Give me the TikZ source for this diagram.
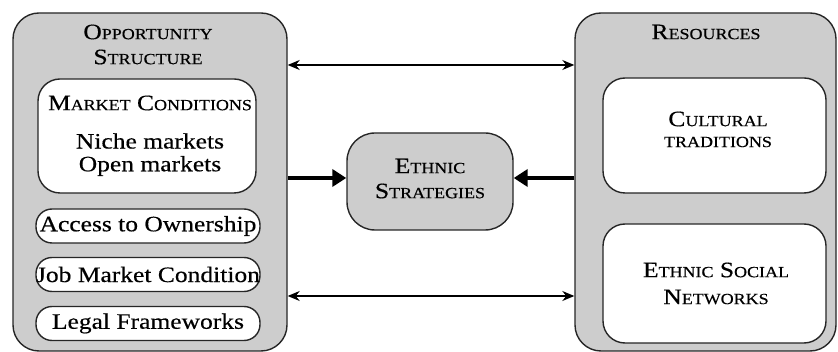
\documentclass[tikz,border=0pt]{standalone}
\usepackage{fontspec}
\setmainfont{Liberation Serif}[FakeStretch=1.16,FakeBold=0.4]
\usetikzlibrary{arrows.meta}
\definecolor{boxgray}{RGB}{205,205,205}
\newcommand\bigF{\fontsize{22}{26}\selectfont}
\newcommand\smc[1]{{\fontsize{15.5}{18}\selectfont #1}}
\begin{document}
\begin{tikzpicture}[x=1pt,y=-1pt,
  outer/.style={draw=black!85,line width=1.4pt,fill=boxgray,rounded corners=26pt,inner sep=0pt},
  inner/.style={draw=black!85,line width=1.4pt,fill=white,rounded corners=22pt,inner sep=0pt},
  pill/.style={draw=black!85,line width=1.4pt,fill=white,rounded corners=16pt,inner sep=0pt,minimum width=224pt,minimum height=34pt,font=\bigF},
  txt/.style={inner sep=0pt,font=\bigF,align=center},
  thin/.style={line width=1.2pt,{Stealth[length=12pt,width=10pt]}-{Stealth[length=12pt,width=10pt]}},
  thick/.style={line width=4.5pt,-{Triangle[length=14pt,width=17pt]}}]
\useasboundingbox (0,0) rectangle (838,352);
% big boxes
\node[outer,minimum width=274pt,minimum height=338pt] (L) at (150,182) {};
\node[outer,minimum width=261pt,minimum height=338pt] (R) at (705.5,182) {};
\node[outer,fill=boxgray,rounded corners=28pt,minimum width=166pt,minimum height=97pt] (ES) at (430,181.5) {};
% titles
\node[txt] (LT1) at (148,32) {O\smc{PPORTUNITY}};
\node[txt] (LT2) at (148,57) {S\smc{TRUCTURE}};
\node[txt] (RT) at (706,32) {R\smc{ESOURCES}};
\node[txt] (EST1) at (430,166) {E\smc{THNIC}};
\node[txt] (EST2) at (430,191) {S\smc{TRATEGIES}};
% left inner boxes
\node[inner,minimum width=218pt,minimum height=114pt] (MC) at (147,136) {};
\node[txt] (MCT) at (150,103) {M\smc{ARKET} C\smc{ONDITIONS}};
\node[txt] (NM) at (150,141) {Niche markets};
\node[txt] (OM) at (150,166) {Open markets};
\node[pill] (AO) at (148,226) {Access to Ownership};
\node[pill] (JM) at (148,274.5) {Job Market Condition};
\node[pill] (LF) at (148,323.5) {Legal Frameworks};
% right inner boxes
\node[inner,minimum width=223pt,minimum height=115pt] (CT) at (714.5,135.5) {};
\node[txt] (CT1) at (718,119) {C\smc{ULTURAL}};
\node[txt] (CT2) at (718,142) {\smc{TRADITIONS}};
\node[inner,minimum width=223pt,minimum height=119pt] (SN) at (714.5,283.5) {};
\node[txt] (SN1) at (716,270) {E\smc{THNIC} S\smc{OCIAL}};
\node[txt] (SN2) at (716,297) {N\smc{ETWORKS}};
% connectors
\coordinate (ytop) at (0,65);
\coordinate (ybot) at (0,296);
\coordinate (ymid) at (0,178);
\draw[thin] (L.east |- ytop) -- (R.west |- ytop);
\draw[thin] (L.east |- ybot) -- (R.west |- ybot);
\draw[thick] (L.east |- ymid) -- (ES.west |- ymid);
\draw[thick] (R.west |- ymid) -- (ES.east |- ymid);
\end{tikzpicture}
\end{document}
